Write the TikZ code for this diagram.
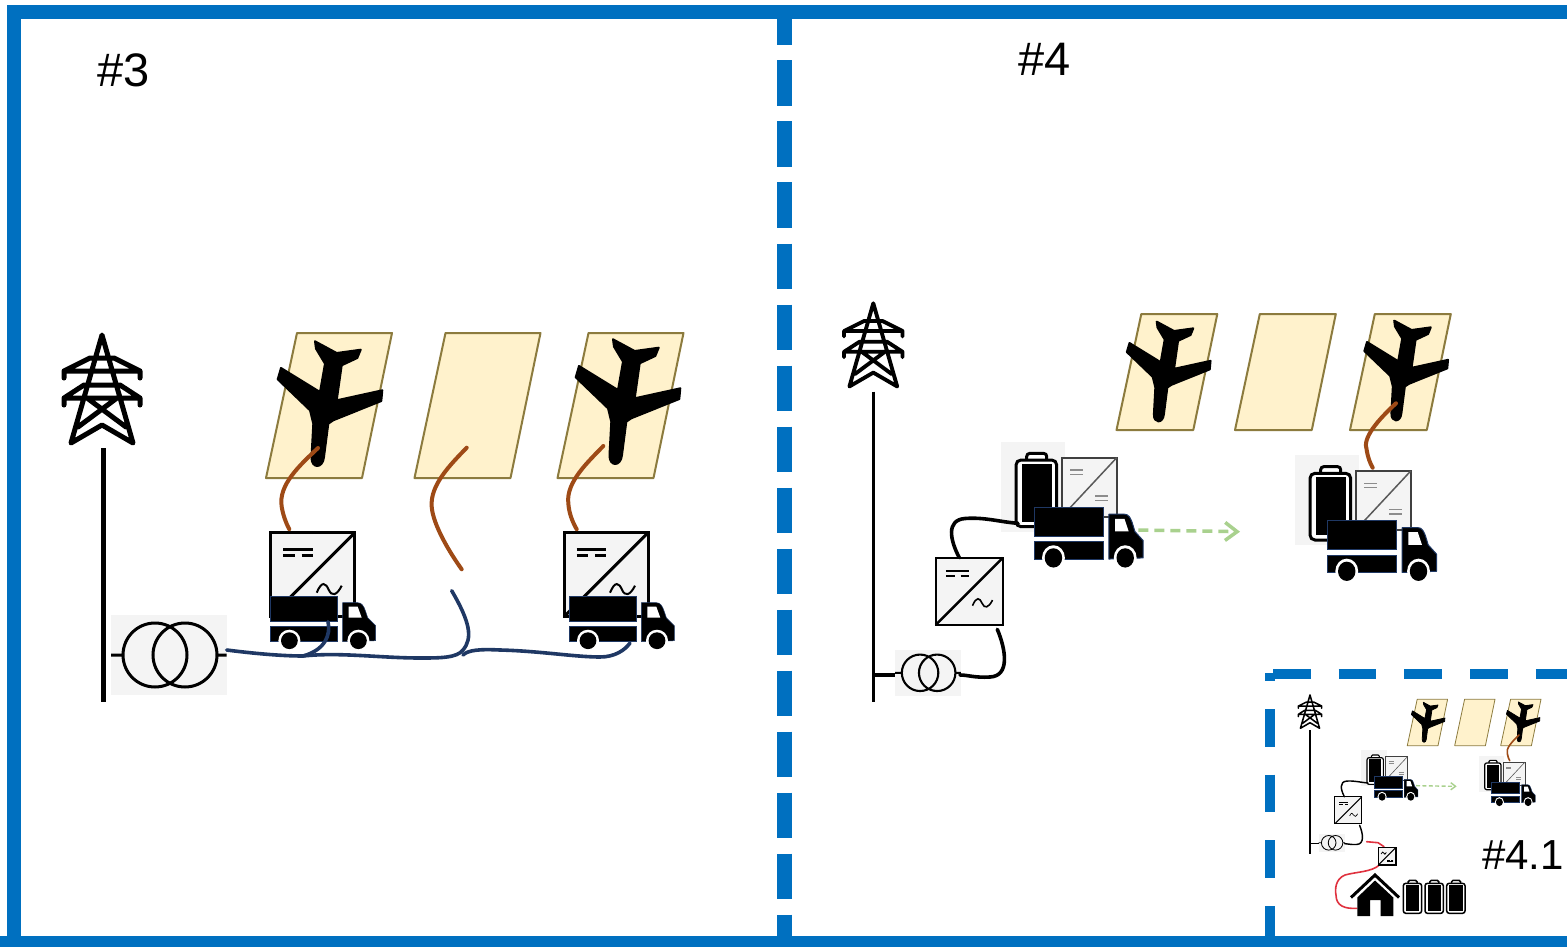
\documentclass[tikz,border=0pt]{standalone}
\usepackage{fontspec}
\setmainfont{Liberation Sans}
\definecolor{marcoBlue}{HTML}{0070C0}
\definecolor{panelFill}{HTML}{FFF2CC}
\definecolor{panelLine}{HTML}{8C7B3E}
\definecolor{cableBrown}{HTML}{9E4A16}
\definecolor{cableNavy}{HTML}{1F3864}
\definecolor{cableRed}{HTML}{E0323F}
\definecolor{flechaGreen}{HTML}{A9D18E}
\definecolor{fondoGray}{HTML}{F4F4F4}
\usetikzlibrary{
	arrows.meta
}
\tikzset{
	marco/.style={
		draw=marcoBlue,
		line width=14pt
	},
	marcoDashed/.style={
		draw=marcoBlue,
		line width=10pt,
		dash pattern=on 37.7pt off 28pt
	},
	etiqueta/.style={
		anchor=west,
		inner sep=0pt,
		text=black
	},
	cableBrownLine/.style={
		draw=cableBrown,
		line width=#1*4pt,
		line cap=round
	},
	cableNavyLine/.style={
		draw=cableNavy,
		line width=#1*3.6pt,
		line cap=round
	},
	cableBlackLine/.style={
		draw=black,
		line width=#1*3.6pt,
		line cap=round
	},
	pics/pylon/.style={code={
		\draw[black, line width=#1*5pt, line join=round, line cap=round]
			(-31,108) -- (0,0) -- (31,108) -- (0,90) -- cycle
			(-38,43) -- (-38,36) -- (-12,23) -- (12,23) -- (38,36) -- (38,43)
			(-38,36) -- (38,36)
			(-38,70) -- (-38,63) -- (-18,50) -- (18,50) -- (38,63) -- (38,70)
			(-38,63) -- (38,63)
			(-15,63) -- (24,92)
			(15,63) -- (-24,92);
	}},
	pics/plane/.style={code={
		\filldraw[fill=black, draw=black, line width=#1*2pt, line join=round]
			(49,8.3) -- (70.7,20) -- (94.7,16.7) -- (91.3,25) -- (75.7,32.3)
			-- (70.7,67.3) -- (116.3,57.3) -- (115.3,68) -- (67.3,87.3) -- (62.3,90.7)
			-- (58,124) .. controls (57,136) and (45,136) .. (45.5,124) -- (47.3,90.7) -- (44,77.3)
			-- (11.7,46.3) -- (15,35) -- (54,59) -- (59,30.7) -- (50,15.7) -- cycle;
	}},
	pics/panel/.style={code={
		\filldraw[fill=panelFill, draw=panelLine, line width=#1*2pt, line join=round]
			(31,0) -- (126,0) -- (96,145) -- (0,145) -- cycle;
	}},
	pics/converter/.style={code={
		\filldraw[fill=fondoGray, draw=black, line width=#1*3pt] (0,0) rectangle (84,84);
		\draw[black, line width=#1*3pt] (0,84) -- (84,0);
		\draw[black, line width=#1*2.5pt]
			(12.7,17) -- (42,17)
			(12.7,23) -- (24,23)
			(31,23) -- (42,23);
		\draw[black, line width=#1*2pt]
			(46,60) .. controls (51,48) and (55,50) .. (58,57) .. controls (61,64) and (66,63) .. (71,53);
	}},
	pics/trafo/.style={code={
		\fill[fondoGray] (0,0) rectangle (115.7,80);
		\draw[black, line width=#1*3pt]
			(0,40) -- (12,40)
			(106,40) -- (115.7,40)
			(44,40) circle (32)
			(74,40) circle (32);
	}},
	pics/bateria/.style={code={
		\filldraw[fill=white, draw=black, line width=#1*3pt, rounded corners=#1*3pt]
			(10.7,1) -- (10.7,-6.6) -- (30.7,-6.6) -- (30.7,1);
		\filldraw[fill=white, draw=black, line width=#1*3pt, rounded corners=#1*5pt]
			(0,0) rectangle (40.7,66.7);
		\fill[black] (5.7,4) rectangle (35.7,61.7);
	}},
	pics/almacen/.style={code={
		\fill[fondoGray] (0,0) rectangle (64,90);
		\pic[transform shape] at (15,18.3) {bateria=#1};
		\filldraw[fill=fondoGray, draw=black!75, line width=#1*2pt] (60.7,16) rectangle (115.7,75);
		\draw[black!65, line width=#1*1.5pt]
			(60.7,75) -- (115.7,16);
		\draw[black!45, line width=#1*1.5pt]
			(69,28.3) -- (82,28.3)
			(69,32.7) -- (82,32.7)
			(94,54.3) -- (107,54.3)
			(94,59) -- (107,59);
	}},
	pics/lorry/.style={code={
		\filldraw[fill=black, draw=cableNavy, line width=#1*1pt] (0,0) rectangle (66.7,25);
		\filldraw[fill=black, draw=cableNavy, line width=#1*1pt] (0,30) rectangle (66.7,45);
		\filldraw[fill=black, draw=cableNavy, line width=#1*1pt, line join=round]
			(72,6) -- (87,6) .. controls (91,6) and (93,9) .. (95,15) -- (97,21) -- (105,29)
			-- (105,44) -- (72,45) -- cycle;
		\fill[white] (78,10) -- (87,10) -- (91,21) -- (78,21) -- cycle;
		\fill[white] (18.7,44) circle (11) (87.7,44) circle (11);
		\fill[black] (18.7,44) circle (8.4) (87.7,44) circle (8.4);
	}},
	pics/esquemaCuatro/.style={code={
		\pic[transform shape, scale=0.77] at (873.3,303.3) {pylon=#1*0.77};
		\draw[black, line width=#1*3.5pt]
			(873.3,391.7) -- (873.3,701.7)
			(873.3,675) -- (896.7,675);
		\pic[transform shape, scale=0.57] at (895,650) {trafo=#1*0.7};
		\draw[cableBlackLine=#1]
			(997.3,629.3) .. controls (1006,650) and (1010,676) .. (990,677) .. controls (975,678) and (968,675) .. (960,675);
		\pic[transform shape, scale=0.8] at (935.7,557.7) {converter=#1*0.8};
		\pic[transform shape, scale=0.8] at (1116.5,314) {panel=#1};
		\pic[transform shape, scale=0.8] at (1235,314) {panel=#1};
		\pic[transform shape, scale=0.8] at (1350,314) {panel=#1};
		\pic[transform shape, scale=0.8] at (1117.5,315) {plane=#1};
		\pic[transform shape, scale=0.8] at (1355,314) {plane=#1};
		\pic[transform shape] at (1001,441.7) {almacen=#1};
		\draw[cableBlackLine=#1]
			(959.3,557.7) .. controls (950,540) and (946,520) .. (965,518.5) .. controls (985,517) and (1000,522) .. (1018,523.3);
		\pic[transform shape, xscale=1.04, yscale=1.15] at (1034,507.3) {lorry=#1};
		\pic[transform shape] at (1295,455) {almacen=#1};
		\pic[transform shape, xscale=1.04, yscale=1.15] at (1327.3,520.7) {lorry=#1};
		\draw[cableBrownLine=#1]
			(1396,403.3) .. controls (1378,420) and (1362,438) .. (1366.7,450) .. controls (1368,458) and (1370,463) .. (1372.7,467.7);
		\draw[flechaGreen, line width=#1*3.5pt, dash pattern=on #1*10pt off #1*6pt, -{Straight Barb[length=12pt, width=18pt, scale=#1]}]
			(1138.3,530) -- (1240,531.7);
	}}
}
\begin{document}
\begin{tikzpicture}[x=1pt, y=-1pt]
	\useasboundingbox (0,0) rectangle (1567,947);
	\fill[white] (0,0) rectangle (1567,947);
	% scheme 3
	\pic at (102,335) {pylon=1};
	\draw[black, line width=4.5pt] (103.7,448) -- (103.7,701.7);
	\pic at (111,615) {trafo=1};
	\pic at (266,333) {panel=1};
	\pic at (414.5,333) {panel=1};
	\pic at (557.5,333) {panel=1};
	\pic at (266,333) {plane=1};
	\pic at (564,331) {plane=1};
	\pic at (270.7,532.7) {converter=1};
	\pic at (270.7,596.7) {lorry=0.5};
	\pic at (564,532.7) {converter=1};
	\pic at (569.3,596.7) {lorry=0.5};
	\draw[cableBrownLine=1]
		(318,448) .. controls (300,465) and (278,485) .. (281.7,506.7) .. controls (283,515) and (286,523) .. (289.3,529.3);
	\draw[cableBrownLine=1]
		(466.7,447.7) .. controls (450,465) and (430,485) .. (431.7,506.7) .. controls (433,525) and (450,553) .. (461.7,569.3);
	\draw[cableBrownLine=1]
		(603.3,446) .. controls (588,462) and (566,482) .. (568.3,503) .. controls (569,513) and (572,521) .. (576.7,529.3);
	\draw[cableNavyLine=1]
		(226.7,650) .. controls (250,653) and (280,656) .. (303,656) .. controls (340,652) and (380,658) .. (420,658) .. controls (440,658) and (457,658) .. (463,650) .. controls (473,638) and (470,622) .. (451.7,590.7);
	\draw[cableNavyLine=1]
		(328,621.7) .. controls (331,635) and (325,650) .. (303,656);
	\draw[cableNavyLine=1]
		(463,655) .. controls (468,650) and (480,649) .. (500,650) .. controls (540,651) and (575,657) .. (600,657) .. controls (615,657) and (625,650) .. (630,643);
	\node[etiqueta, font=\fontsize{47}{50}\selectfont] (etiquetaTres) at (97,70) {\#3};
	% scheme 4
	\pic at (0,0) {esquemaCuatro=1};
	\node[etiqueta, font=\fontsize{47}{50}\selectfont] (etiquetaCuatro) at (1018,59) {\#4};
	% scheme 4.1
	\begin{scope}[shift={(960.68,573.68)}, scale=0.4]
		\pic[transform shape] at (0,0) {esquemaCuatro=0.4};
	\end{scope}
	\draw[cableRed, line width=1.6pt, line cap=round]
		(1366.7,841.7) -- (1378,842.7) -- (1384,846.7);
	\draw[cableRed, line width=1.6pt, line cap=round]
		(1379.3,865) .. controls (1372,872) and (1355,872) .. (1345,875) .. controls (1335,879) and (1335,890) .. (1336,895) .. controls (1336,906) and (1345,909) .. (1356.7,908.3);
	\pic[scale=0.21, rotate=180] at (1396,865) {converter=0.4};
	\draw[black, line width=3pt, line join=miter] (1351,897.5) -- (1375,875) -- (1399,897.5);
	\fill[black] (1375,880.5) -- (1393.3,897.5) -- (1393.3,916) -- (1380.7,916) -- (1380.7,900) -- (1370,900) -- (1370,916) -- (1357.3,916) -- (1357.3,897.5) -- cycle;
	\pic[scale=0.45] at (1403.3,883.3) {bateria=0.5};
	\pic[scale=0.45] at (1425,883.3) {bateria=0.5};
	\pic[scale=0.45] at (1446.7,883.3) {bateria=0.5};
	\node[etiqueta, font=\fontsize{42}{46}\selectfont] (etiquetaCuatroUno) at (1482,855) {\#4.1};
	% frames
	\draw[marco] (14,947) -- (14,12) -- (1567,12);
	\draw[marcoBlue, line width=11pt] (0,941.5) -- (1567,941.5);
	\draw[draw=marcoBlue, line width=15pt, dash pattern=on 45.5pt off 15.5pt, dash phase=19.5pt] (784.5,19) -- (784.5,936);
	\draw[marcoDashed] (1273,674) -- (1567,674);
	\draw[marcoDashed, dash phase=29.7pt] (1270,673) -- (1270,937);
\end{tikzpicture}
\end{document}
